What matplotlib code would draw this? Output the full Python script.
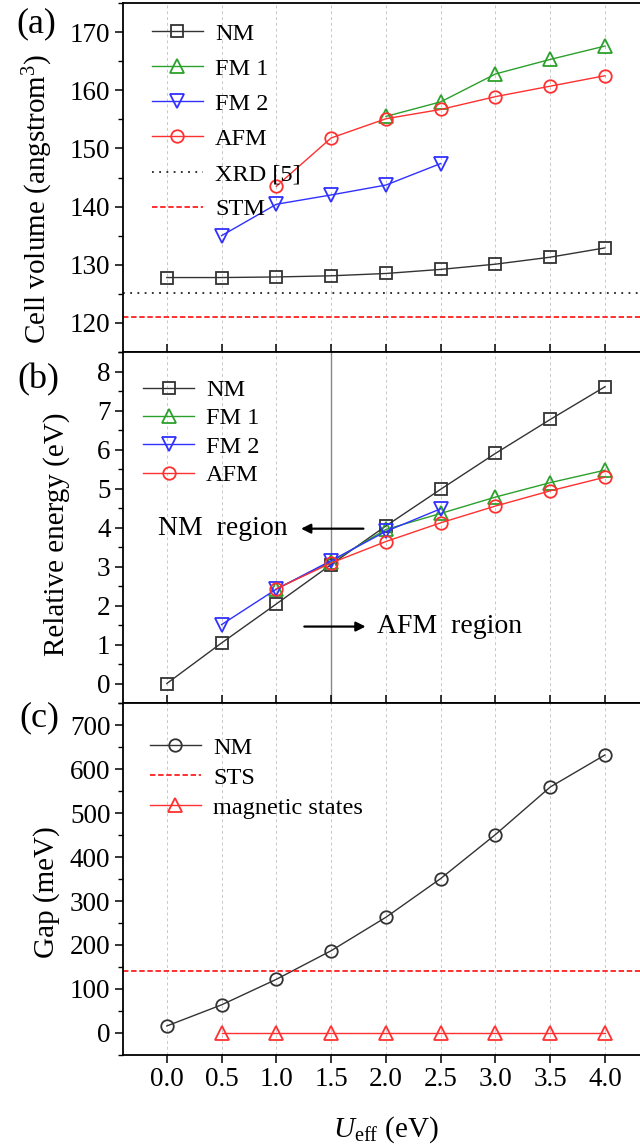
import matplotlib
matplotlib.use("Agg")
import matplotlib.pyplot as plt
from matplotlib.ticker import MultipleLocator

plt.rcParams['font.family'] = ['Liberation Serif', 'DejaVu Serif']
plt.rcParams['mathtext.fontset'] = 'custom'
plt.rcParams['mathtext.rm'] = 'Liberation Serif'
plt.rcParams['mathtext.it'] = 'Liberation Serif:italic'

# ---------------- data ----------------
u_all = [0.0, 0.5, 1.0, 1.5, 2.0, 2.5, 3.0, 3.5, 4.0]
xtick_labels = ["0.0", "0.5", "1.0", "1.5", "2.0", "2.5", "3.0", "3.5", "4.0"]

# (a) cell volume
vol_nm = [127.8, 127.8, 127.9, 128.1, 128.5, 129.2, 130.1, 131.3, 132.9]
u_fm1 = [2.0, 2.5, 3.0, 3.5, 4.0]
vol_fm1 = [155.5, 158.0, 162.8, 165.3, 167.6]
u_fm2 = [0.5, 1.0, 1.5, 2.0, 2.5]
vol_fm2 = [135.0, 140.4, 142.0, 143.7, 147.4]
u_afm = [1.0, 1.5, 2.0, 2.5, 3.0, 3.5, 4.0]
vol_afm = [143.5, 151.8, 155.1, 156.7, 158.9, 160.7, 162.5]
vol_xrd = 125.2
vol_stm = 121.1

# (b) relative energy
e_nm = [0.0, 1.04, 2.04, 3.05, 4.04, 4.98, 5.90, 6.77, 7.61]
u_e_fm1 = [1.0, 1.5, 2.0, 2.5, 3.0, 3.5, 4.0]
e_fm1 = [2.42, 3.12, 3.95, 4.36, 4.78, 5.15, 5.47]
u_e_fm2 = [0.5, 1.0, 1.5, 2.0, 2.5]
e_fm2 = [1.51, 2.42, 3.15, 3.90, 4.48]
u_e_afm = [1.0, 1.5, 2.0, 2.5, 3.0, 3.5, 4.0]
e_afm = [2.43, 3.09, 3.64, 4.12, 4.55, 4.94, 5.29]

# (c) gap
gap_nm = [16, 64, 122, 187, 263, 351, 451, 559, 632]
u_mag = [0.5, 1.0, 1.5, 2.0, 2.5, 3.0, 3.5, 4.0]
gap_mag = [0, 0, 0, 0, 0, 0, 0, 0]
gap_sts = 140

# ---------------- style ----------------
c_nm = '#333333'
c_fm1 = '#2ca02c'
c_fm2 = '#3030ff'
c_afm = '#ff3030'
ms = 9
mew = 1.3
lw = 1.0
tick_fs = 19.5
leg_fs = 17.5
lab_fs = 21
ann_fs = 20

W, H = 640, 1148
fig = plt.figure(figsize=(W / 100, H / 100), dpi=100)

left_px = 123
right_px = 648.8
left = left_px / W
width = (right_px - left_px) / W


def make_ax(top_px, bot_px):
    return fig.add_axes([left, 1 - bot_px / H, width, (bot_px - top_px) / H])


axa = make_ax(3, 352)
axb = make_ax(352, 703)
axc = make_ax(703, 1055)

for ax in (axa, axb, axc):
    ax.set_xlim(-0.4, 4.4)
    ax.set_xticks(u_all)
    for x in u_all:
        ax.axvline(x, color='#c8c8c8', lw=0.7, ls=(0, (3, 3)), zorder=0)
    for s in ax.spines.values():
        s.set_linewidth(1.3)
    ax.tick_params(axis='y', which='major', direction='out', length=6, width=1.1,
                   labelsize=tick_fs, pad=3)
    ax.tick_params(axis='y', which='minor', direction='out', length=3.5, width=1.0)
    ax.tick_params(axis='x', which='major', length=6, width=1.1, labelsize=tick_fs)

for ax in (axa, axb):
    ax.tick_params(axis='x', direction='in', labelbottom=False)
axc.tick_params(axis='x', direction='out', pad=3)
axc.set_xticklabels(xtick_labels)

leg_kw = dict(loc='upper left', frameon=False, fontsize=leg_fs, handlelength=2.1,
              handletextpad=0.5, borderaxespad=0.0, borderpad=0.0)

# (a)
axa.plot(u_all, vol_nm, '-s', color=c_nm, lw=lw, ms=ms - 1, mfc='none', mew=mew, label='NM')
axa.plot(u_fm1, vol_fm1, '-^', color=c_fm1, lw=lw, ms=ms + 1, mfc='none', mew=mew, label='FM 1')
axa.plot(u_fm2, vol_fm2, '-v', color=c_fm2, lw=lw, ms=ms + 1, mfc='none', mew=mew, label='FM 2')
axa.plot(u_afm, vol_afm, '-o', color=c_afm, lw=lw, ms=ms, mfc='none', mew=mew, label='AFM')
axa.axhline(vol_xrd, color='#222222', lw=1.3, ls=(0, (1, 3)), label='XRD [5]')
axa.axhline(vol_stm, color='#ff2020', lw=1.3, ls=(0, (3, 1.5)), label='STM')
axa.set_ylim(115, 175)
axa.yaxis.set_major_locator(MultipleLocator(10))
axa.yaxis.set_minor_locator(MultipleLocator(5))
axa.set_ylabel('Cell volume (angstrom$^3$)', fontsize=lab_fs, va='center')
axa.yaxis.set_label_coords(-0.162, 0.44)
axa.legend(bbox_to_anchor=(0.055, 0.944), labelspacing=0.54, **leg_kw)

# (b)
axb.axvline(1.5, color='#888888', lw=1.0, zorder=1)
axb.plot(u_all, e_nm, '-s', color=c_nm, lw=lw, ms=ms - 1, mfc='none', mew=mew, label='NM')
axb.plot(u_e_fm1, e_fm1, '-^', color=c_fm1, lw=lw, ms=ms + 1, mfc='none', mew=mew, label='FM 1')
axb.plot(u_e_fm2, e_fm2, '-v', color=c_fm2, lw=lw, ms=ms + 1, mfc='none', mew=mew, label='FM 2')
axb.plot(u_e_afm, e_afm, '-o', color=c_afm, lw=lw, ms=ms, mfc='none', mew=mew, label='AFM')
axb.set_ylim(-0.5, 8.5)
axb.yaxis.set_major_locator(MultipleLocator(1))
axb.yaxis.set_minor_locator(MultipleLocator(0.5))
axb.set_ylabel('Relative energy (eV)', fontsize=lab_fs, va='center')
axb.yaxis.set_label_coords(-0.126, 0.481)
axb.legend(bbox_to_anchor=(0.038, 0.923), labelspacing=0.26, **leg_kw)
axb.text(-0.08, 3.97, 'NM  region', fontsize=ann_fs, ha='left', va='center')
axb.annotate('', xy=(1.2, 3.97), xytext=(1.82, 3.97),
             arrowprops=dict(arrowstyle='-|>', color='black', lw=1.6, mutation_scale=14))
axb.text(1.92, 1.46, 'AFM  region', fontsize=ann_fs, ha='left', va='center')
axb.annotate('', xy=(1.84, 1.46), xytext=(1.23, 1.46),
             arrowprops=dict(arrowstyle='-|>', color='black', lw=1.6, mutation_scale=14))

# (c)
axc.plot(u_all, gap_nm, '-o', color=c_nm, lw=lw, ms=ms, mfc='none', mew=mew, label='NM')
axc.axhline(gap_sts, color='#ff2020', lw=1.3, ls=(0, (3, 1.5)), label='STS')
axc.plot(u_mag, gap_mag, '-^', color=c_afm, lw=lw, ms=ms + 1, mfc='none', mew=mew,
         label='magnetic states')
axc.set_ylim(-50, 750)
axc.yaxis.set_major_locator(MultipleLocator(100))
axc.yaxis.set_minor_locator(MultipleLocator(50))
axc.set_ylabel('Gap (meV)', fontsize=lab_fs, va='center')
axc.yaxis.set_label_coords(-0.145, 0.463)
axc.legend(bbox_to_anchor=(0.051, 0.904), labelspacing=0.33, **leg_kw)
axc.set_xlabel('$U_{\\mathrm{eff}}$ (eV)', fontsize=lab_fs, va='center')
axc.xaxis.set_label_coords(0.5, -(1130 - 1055) / 352)

# panel labels
fig.text(36 / W, 1 - 24 / H, '(a)', fontsize=26, ha='center', va='center')
fig.text(38 / W, 1 - 380 / H, '(b)', fontsize=26, ha='center', va='center')
fig.text(39 / W, 1 - 718 / H, '(c)', fontsize=26, ha='center', va='center')

fig.savefig('out.png', dpi=100)
